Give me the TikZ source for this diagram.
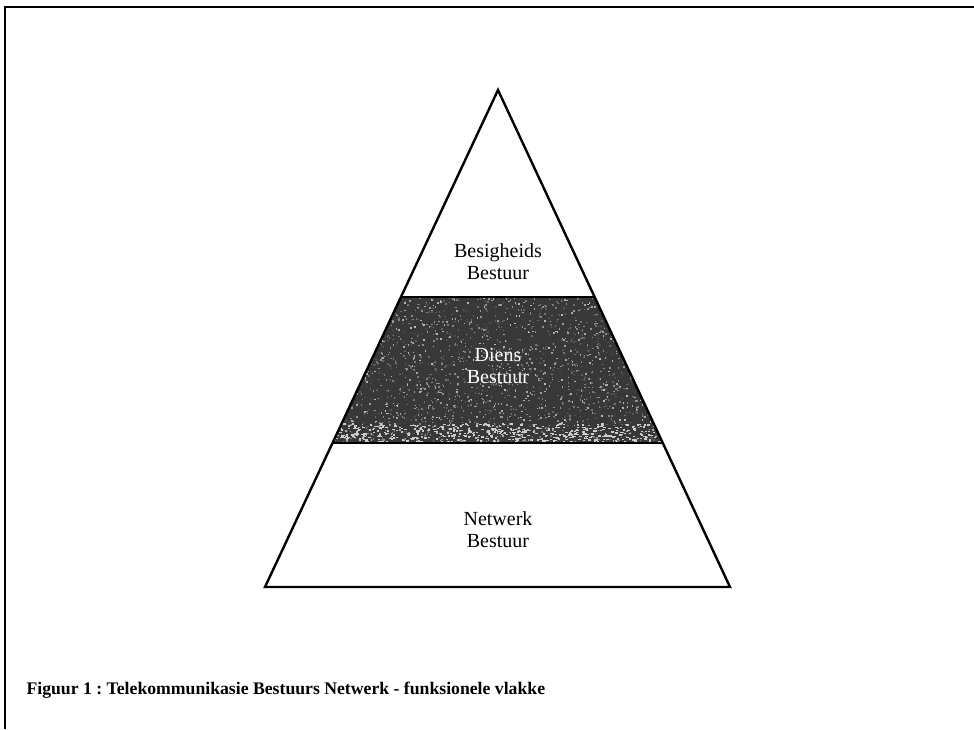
\documentclass[tikz,border=0pt]{standalone}
\usepackage{fontspec}
\setmainfont{Liberation Serif}
\usetikzlibrary{calc}
\frenchspacing
\begin{document}
\begin{tikzpicture}[x=1pt,y=-1pt,
  frameline/.style={line width=2.2pt},
  edge/.style={line width=2.4pt,line join=miter},
  level/.style={align=center,font=\fontsize{20}{22}\selectfont},
  caption/.style={anchor=west,font=\bfseries\fontsize{17.7}{20}\selectfont}]
\useasboundingbox (0,0) rectangle (974,729);

% page frame: top and left rule only
\draw[frameline] (974,7) -- (5,7) -- (5,729);

% pyramid corners
\coordinate (apex) at (498,90);
\coordinate (bl) at (265,587);
\coordinate (br) at (730,587);
% band boundaries on the sides
\coordinate (tl) at ($(apex)!0.4165!(bl)$);
\coordinate (tr) at ($(apex)!0.4165!(br)$);
\coordinate (ml) at ($(apex)!0.7103!(bl)$);
\coordinate (mr) at ($(apex)!0.7103!(br)$);

% shaded middle band with a grainy texture
\fill[black!78] (tl) -- (tr) -- (mr) -- (ml) -- cycle;
\begin{scope}
  \clip (tl) -- (tr) -- (mr) -- (ml) -- cycle;
  \pgfmathsetseed{4711}
  \foreach \i in {1,...,2600}{
    \pgfmathsetmacro{\rx}{330+335*rnd}
    \pgfmathsetmacro{\ry}{297+146*rnd}
    \pgfmathsetmacro{\rg}{25+55*rnd}
    \fill[black!\rg!white] (\rx,\ry) rectangle ++(1.5,1.5);
  }
  \foreach \i in {1,...,500}{
    \pgfmathsetmacro{\rx}{330+335*rnd}
    \pgfmathsetmacro{\ry}{423+20*rnd}
    \fill[black!20] (\rx,\ry) rectangle ++(2.4,1.4);
  }
\end{scope}

% outline and level dividers
\draw[edge] (apex) -- (br) -- (bl) -- cycle;
\draw[line width=2pt] (tl) -- (tr);
\draw[line width=2.4pt] (ml) -- (mr);

% level labels
\node[level] (top) at (498,262) {Besigheids\\Bestuur};
\node[level,text=white] (mid) at (498,366) {Diens\\Bestuur};
\node[level] (low) at (498,530) {Netwerk\\Bestuur};

% caption
\node[caption] (cap) at (23,690) {Figuur 1 : Telekommunikasie Bestuurs Netwerk - funksionele vlakke};
\end{tikzpicture}
\end{document}
